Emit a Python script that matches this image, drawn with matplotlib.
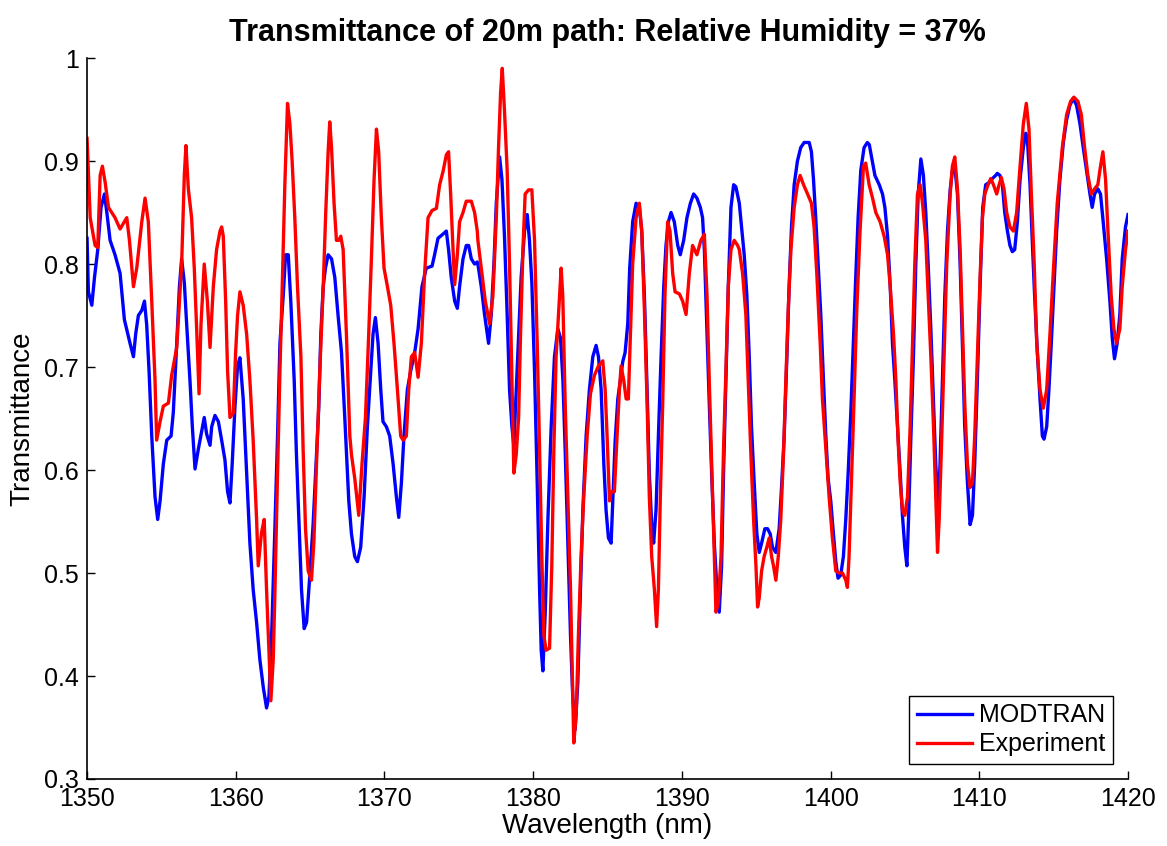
import matplotlib
matplotlib.use("Agg")
import matplotlib.pyplot as plt
from matplotlib.ticker import FormatStrFormatter

plt.rcParams.update({
    "font.family": ["Liberation Sans", "DejaVu Sans"],
    "font.size": 18,
})

BLUE = "#0000ff"
RED = "#ff0000"

# MODTRAN model
wl_modtran = [
    1350.00, 1350.09, 1350.32, 1350.50, 1350.72, 1350.94, 1351.17, 1351.33, 1351.55, 1351.88,
    1352.22, 1352.51, 1352.89, 1353.12, 1353.27, 1353.45, 1353.68, 1353.86, 1354.01, 1354.17,
    1354.35, 1354.57, 1354.75, 1354.91, 1355.13, 1355.36, 1355.65, 1355.80, 1356.03, 1356.21,
    1356.36, 1356.54, 1356.70, 1356.92, 1357.08, 1357.26, 1357.48, 1357.71, 1357.88, 1358.04,
    1358.27, 1358.38, 1358.60, 1358.83,
    1359.05, 1359.27, 1359.45, 1359.61, 1359.76, 1359.94, 1360.12, 1360.28, 1360.50, 1360.73,
    1360.95, 1361.17, 1361.40, 1361.62, 1361.85, 1362.07, 1362.23, 1362.41, 1362.63, 1362.81,
    1362.97, 1363.19, 1363.35, 1363.53, 1363.70, 1363.93, 1364.08, 1364.24, 1364.42, 1364.60,
    1364.76, 1364.98, 1365.20, 1365.43, 1365.58, 1365.72, 1365.88, 1366.03, 1366.21, 1366.44,
    1366.66, 1366.88, 1367.11, 1367.33, 1367.51,
    1367.60, 1367.78, 1368.00, 1368.18, 1368.40, 1368.63, 1368.85, 1369.08, 1369.23, 1369.39,
    1369.57, 1369.75, 1369.90, 1370.13, 1370.35, 1370.58, 1370.80, 1370.96, 1371.14, 1371.31,
    1371.54, 1371.76, 1372.03, 1372.26, 1372.52, 1372.81, 1373.20, 1373.37, 1373.60, 1373.93,
    1374.16, 1374.31, 1374.49, 1374.72, 1374.90, 1375.05, 1375.28, 1375.50, 1375.66, 1375.84,
    1376.06, 1376.24,
    1376.28, 1376.51, 1376.73, 1377.00, 1377.18, 1377.36, 1377.52, 1377.74, 1377.90, 1378.07,
    1378.25, 1378.41, 1378.57, 1378.70, 1378.86, 1379.02, 1379.19, 1379.42, 1379.60, 1379.75,
    1379.91, 1380.09, 1380.27, 1380.43, 1380.54, 1380.65, 1380.81, 1380.99, 1381.21, 1381.43,
    1381.66, 1381.84, 1382.00, 1382.15, 1382.33, 1382.51, 1382.66, 1382.82, 1383.00, 1383.18,
    1383.34, 1383.56, 1383.78, 1384.01, 1384.23, 1384.39, 1384.57, 1384.75, 1384.90, 1385.06,
    1385.24, 1385.35, 1385.51, 1385.69, 1385.86, 1386.02, 1386.18, 1386.36, 1386.49, 1386.69,
    1386.92, 1387.14, 1387.30, 1387.48, 1387.66, 1387.81, 1387.97, 1388.10, 1388.26, 1388.42,
    1388.60, 1388.78, 1388.93, 1389.09, 1389.27, 1389.49, 1389.72, 1389.89, 1390.12, 1390.34,
    1390.57, 1390.79, 1391.01, 1391.24, 1391.39, 1391.51, 1391.69, 1391.84, 1392.00, 1392.18,
    1392.36, 1392.51, 1392.67, 1392.80, 1392.96, 1393.12, 1393.30, 1393.48, 1393.63, 1393.86,
    1394.01, 1394.19, 1394.37, 1394.53, 1394.68, 1394.86, 1395.04, 1395.20, 1395.36, 1395.58,
    1395.76, 1395.94, 1396.09, 1396.32, 1396.54, 1396.70, 1396.88, 1397.06, 1397.21, 1397.37,
    1397.55, 1397.77, 1397.99, 1398.22, 1398.56, 1398.71, 1398.85, 1399.00, 1399.16, 1399.34,
    1399.52, 1399.68, 1399.83, 1400.01, 1400.19, 1400.35, 1400.50, 1400.68, 1400.86, 1401.02,
    1401.18, 1401.36, 1401.53, 1401.69, 1401.85, 1402.03, 1402.25, 1402.47,
    1402.60, 1402.75, 1402.98, 1403.27, 1403.49, 1403.65, 1403.83, 1404.01, 1404.16, 1404.32,
    1404.50, 1404.68, 1404.83, 1404.99, 1405.13, 1405.24, 1405.39, 1405.57, 1405.73, 1405.89,
    1406.07, 1406.24, 1406.40, 1406.56, 1406.74, 1406.92, 1407.07, 1407.23, 1407.36, 1407.52,
    1407.68, 1407.86, 1408.04, 1408.19, 1408.35, 1408.53, 1408.71, 1408.86, 1409.02, 1409.20,
    1409.38, 1409.54, 1409.69, 1409.87, 1410.05, 1410.23, 1410.43, 1410.65, 1410.88, 1411.10,
    1411.21, 1411.39, 1411.55, 1411.71, 1411.89, 1412.06, 1412.22, 1412.38, 1412.56, 1412.74,
    1412.96, 1413.12, 1413.23, 1413.41, 1413.56, 1413.72, 1413.90, 1414.08, 1414.24, 1414.35,
    1414.53, 1414.68, 1414.84, 1415.02, 1415.20, 1415.42, 1415.65, 1415.87, 1416.09, 1416.32,
    1416.54, 1416.77, 1416.99, 1417.21, 1417.44, 1417.59, 1417.75, 1417.97, 1418.15, 1418.33,
    1418.56, 1418.78, 1418.94, 1419.09, 1419.27, 1419.45, 1419.61, 1419.83, 1420.00,
]
t_modtran = [
    0.825, 0.773, 0.760, 0.787, 0.814, 0.855, 0.868, 0.850, 0.823, 0.809,
    0.791, 0.746, 0.723, 0.710, 0.732, 0.750, 0.755, 0.764, 0.741, 0.696,
    0.633, 0.574, 0.552, 0.570, 0.606, 0.629, 0.633, 0.656, 0.723, 0.778,
    0.805, 0.782, 0.741, 0.687, 0.642, 0.601, 0.620, 0.638, 0.651, 0.635,
    0.624, 0.642, 0.653, 0.647,
    0.629, 0.610, 0.579, 0.568, 0.606, 0.660, 0.701, 0.709, 0.669, 0.597,
    0.529, 0.484, 0.452, 0.416, 0.389, 0.369, 0.380, 0.439, 0.543, 0.633,
    0.723, 0.769, 0.809, 0.809, 0.764, 0.687, 0.615, 0.552, 0.484, 0.446,
    0.452, 0.498, 0.547, 0.615, 0.660, 0.732, 0.778, 0.796, 0.809, 0.805,
    0.787, 0.750, 0.714, 0.651, 0.597,
    0.570, 0.538, 0.516, 0.511, 0.525, 0.574, 0.642, 0.696, 0.732, 0.748,
    0.723, 0.678, 0.647, 0.642, 0.633, 0.606, 0.574, 0.554, 0.588, 0.633,
    0.678, 0.696, 0.714, 0.737, 0.778, 0.796, 0.798, 0.809, 0.825, 0.829,
    0.832, 0.814, 0.787, 0.764, 0.757, 0.778, 0.805, 0.818, 0.818, 0.805,
    0.800, 0.802,
    0.800, 0.778, 0.751, 0.723, 0.751, 0.800, 0.859, 0.904, 0.882, 0.827,
    0.751, 0.678, 0.642, 0.624, 0.678, 0.732, 0.787, 0.832, 0.848, 0.823,
    0.782, 0.696, 0.588, 0.484, 0.425, 0.405, 0.462, 0.552, 0.642, 0.710,
    0.737, 0.728, 0.687, 0.620, 0.529, 0.439, 0.380, 0.348, 0.393, 0.484,
    0.561, 0.633, 0.678, 0.710, 0.721, 0.710, 0.678, 0.606, 0.561, 0.534,
    0.529, 0.570, 0.628, 0.669, 0.687, 0.705, 0.714, 0.742, 0.796, 0.841,
    0.859, 0.855, 0.832, 0.769, 0.678, 0.597, 0.547, 0.529, 0.561, 0.633,
    0.710, 0.778, 0.818, 0.841, 0.850, 0.841, 0.818, 0.809, 0.823, 0.845,
    0.859, 0.868, 0.864, 0.855, 0.845, 0.814, 0.732, 0.665, 0.597, 0.529,
    0.484, 0.462, 0.507, 0.597, 0.687, 0.778, 0.855, 0.877, 0.875, 0.859,
    0.836, 0.809, 0.769, 0.710, 0.642, 0.588, 0.538, 0.520, 0.529, 0.543,
    0.543, 0.538, 0.525, 0.520, 0.543, 0.583, 0.633, 0.710, 0.778, 0.836,
    0.877, 0.900, 0.913, 0.918, 0.918, 0.909, 0.882, 0.845, 0.800, 0.751,
    0.687, 0.633, 0.592, 0.570, 0.538, 0.511, 0.495, 0.498, 0.516, 0.552,
    0.597, 0.656, 0.723, 0.787, 0.845, 0.891, 0.913, 0.918,
    0.916, 0.904, 0.886, 0.877, 0.868, 0.855, 0.827, 0.778, 0.723, 0.687,
    0.642, 0.597, 0.556, 0.525, 0.507, 0.552, 0.628, 0.710, 0.800, 0.868,
    0.902, 0.886, 0.850, 0.800, 0.737, 0.665, 0.606, 0.561, 0.606, 0.687,
    0.769, 0.832, 0.872, 0.891, 0.895, 0.868, 0.800, 0.723, 0.642, 0.588,
    0.547, 0.556, 0.606, 0.687, 0.778, 0.855, 0.877, 0.879, 0.883, 0.886,
    0.888, 0.886, 0.877, 0.850, 0.832, 0.818, 0.812, 0.814, 0.841, 0.882,
    0.913, 0.927, 0.922, 0.877, 0.823, 0.769, 0.715, 0.669, 0.633, 0.630,
    0.642, 0.678, 0.723, 0.778, 0.832, 0.882, 0.918, 0.940, 0.954, 0.961,
    0.954, 0.936, 0.913, 0.891, 0.868, 0.855, 0.868, 0.873, 0.868, 0.841,
    0.805, 0.764, 0.728, 0.708, 0.723, 0.751, 0.805, 0.836, 0.848,
]

# measured transmittance
wl_exp = [
    1350.00, 1350.21, 1350.54, 1350.72, 1350.88, 1351.03, 1351.21, 1351.44, 1351.88, 1352.22,
    1352.67, 1352.85, 1353.12, 1353.34, 1353.68, 1353.90, 1354.12, 1354.35, 1354.57, 1354.68,
    1354.91, 1355.13, 1355.47, 1355.69, 1356.03, 1356.36, 1356.54, 1356.65, 1356.81, 1357.03,
    1357.21, 1357.37, 1357.53, 1357.66, 1357.88, 1358.09, 1358.27, 1358.49, 1358.71, 1358.94,
    1359.05, 1359.16, 1359.32, 1359.45, 1359.61, 1359.83, 1359.99, 1360.12, 1360.28, 1360.50,
    1360.73, 1360.95, 1361.17, 1361.40, 1361.51, 1361.73, 1361.91, 1362.07, 1362.23, 1362.36,
    1362.52, 1362.63, 1362.81, 1362.97, 1363.14, 1363.30, 1363.48, 1363.64, 1363.79, 1363.97,
    1364.15, 1364.38, 1364.53, 1364.69, 1364.87, 1365.09, 1365.25, 1365.43, 1365.65, 1365.88,
    1366.05, 1366.21, 1366.32, 1366.44, 1366.61, 1366.77, 1366.93, 1367.06, 1367.22, 1367.44,
    1367.67,
    1367.78, 1368.00, 1368.27, 1368.49, 1368.72, 1368.94, 1369.12, 1369.30, 1369.46, 1369.61,
    1369.79, 1369.97, 1370.20, 1370.42, 1370.64, 1370.87, 1371.09, 1371.25, 1371.47, 1371.63,
    1371.81, 1372.03, 1372.26, 1372.48, 1372.70, 1372.93, 1373.20, 1373.49, 1373.71, 1373.94,
    1374.16, 1374.31, 1374.45, 1374.61, 1374.72, 1374.90, 1375.05, 1375.28, 1375.50, 1375.84,
    1376.06, 1376.24,
    1376.28, 1376.51, 1376.78, 1377.07, 1377.29, 1377.52, 1377.67, 1377.81, 1377.92, 1378.07,
    1378.25, 1378.41, 1378.57, 1378.70, 1378.86, 1379.02, 1379.15, 1379.31, 1379.46, 1379.69,
    1379.91, 1380.09, 1380.27, 1380.43, 1380.58, 1380.72, 1380.87, 1381.10, 1381.25, 1381.39,
    1381.54, 1381.70, 1381.88, 1381.99, 1382.15, 1382.33, 1382.51, 1382.64, 1382.73, 1382.89,
    1383.04, 1383.22, 1383.40, 1383.63, 1383.85, 1384.12, 1384.39, 1384.68, 1384.84, 1384.97,
    1385.13,
    1385.24, 1385.46, 1385.64, 1385.80, 1385.91, 1386.09, 1386.25, 1386.40, 1386.54, 1386.69,
    1386.92, 1387.14, 1387.30, 1387.48, 1387.66, 1387.81, 1387.97, 1388.15, 1388.30, 1388.42,
    1388.55, 1388.71, 1388.86, 1389.04, 1389.20, 1389.38, 1389.54, 1389.83, 1390.05, 1390.28,
    1390.50, 1390.72, 1391.01, 1391.28, 1391.51, 1391.69, 1391.84, 1392.00, 1392.18, 1392.29,
    1392.45, 1392.63, 1392.80, 1392.96, 1393.12, 1393.30, 1393.52, 1393.75,
    1393.86, 1394.08, 1394.30, 1394.46, 1394.64, 1394.82, 1394.98, 1395.09, 1395.20, 1395.36,
    1395.53, 1395.71, 1395.87, 1396.03, 1396.16, 1396.32, 1396.48, 1396.65, 1396.83, 1396.99,
    1397.15, 1397.33, 1397.55, 1397.77, 1397.95, 1398.18, 1398.45, 1398.71, 1398.89, 1399.07,
    1399.30, 1399.45, 1399.68, 1399.90, 1400.12, 1400.35, 1400.57, 1400.80, 1401.02, 1401.13,
    1401.24, 1401.40, 1401.58, 1401.76, 1401.98, 1402.21, 1402.36, 1402.59,
    1402.82, 1403.04, 1403.33, 1403.60, 1403.83, 1404.01, 1404.23, 1404.39, 1404.54, 1404.68,
    1404.83, 1404.99, 1405.17, 1405.35, 1405.51, 1405.66, 1405.84, 1406.02, 1406.18, 1406.40,
    1406.56, 1406.74, 1406.92, 1407.07, 1407.19, 1407.30, 1407.45, 1407.63, 1407.81, 1408.04,
    1408.19, 1408.35, 1408.53, 1408.71, 1408.86, 1409.02, 1409.20, 1409.38, 1409.54, 1409.69,
    1409.87, 1410.05, 1410.21, 1410.37, 1410.59, 1410.77, 1410.95, 1411.17,
    1411.33, 1411.48, 1411.66, 1411.84, 1412.06, 1412.29, 1412.51, 1412.74, 1412.96, 1413.16,
    1413.34, 1413.50, 1413.68, 1413.86, 1414.08, 1414.30, 1414.53, 1414.75, 1414.97, 1415.24,
    1415.58, 1415.87, 1416.14, 1416.36, 1416.63, 1416.86, 1417.08, 1417.30, 1417.53, 1417.75,
    1417.97, 1418.15, 1418.31, 1418.49, 1418.65, 1418.87, 1419.05, 1419.23, 1419.45, 1419.61,
    1419.83, 1420.00,
]
t_exp = [
    0.922, 0.845, 0.818, 0.816, 0.886, 0.895, 0.880, 0.855, 0.845, 0.834,
    0.845, 0.823, 0.778, 0.796, 0.841, 0.864, 0.841, 0.764, 0.687, 0.629,
    0.647, 0.662, 0.665, 0.692, 0.719, 0.800, 0.886, 0.915, 0.873, 0.845,
    0.796, 0.737, 0.674, 0.741, 0.800, 0.764, 0.719, 0.778, 0.814, 0.832,
    0.836, 0.827, 0.764, 0.696, 0.651, 0.655, 0.714, 0.750, 0.773, 0.760,
    0.732, 0.687, 0.629, 0.552, 0.507, 0.539, 0.552, 0.484, 0.425, 0.376,
    0.416, 0.480, 0.597, 0.696, 0.787, 0.877, 0.956, 0.936, 0.900, 0.845,
    0.778, 0.710, 0.620, 0.543, 0.502, 0.493, 0.529, 0.606, 0.696, 0.778,
    0.850, 0.909, 0.938, 0.913, 0.859, 0.823, 0.823, 0.827, 0.814, 0.732,
    0.633,
    0.615, 0.592, 0.556, 0.606, 0.651, 0.732, 0.805, 0.882, 0.931, 0.909,
    0.845, 0.796, 0.778, 0.760, 0.723, 0.678, 0.633, 0.629, 0.633, 0.678,
    0.710, 0.714, 0.690, 0.723, 0.791, 0.845, 0.852, 0.854, 0.877, 0.890,
    0.906, 0.909, 0.868, 0.814, 0.780, 0.809, 0.841, 0.850, 0.861, 0.861,
    0.850, 0.832,
    0.823, 0.796, 0.764, 0.742, 0.769, 0.845, 0.913, 0.967, 0.990, 0.949,
    0.891, 0.800, 0.687, 0.597, 0.615, 0.651, 0.732, 0.814, 0.868, 0.872,
    0.872, 0.823, 0.723, 0.620, 0.516, 0.439, 0.425, 0.427, 0.507, 0.620,
    0.710, 0.751, 0.796, 0.769, 0.665, 0.574, 0.484, 0.393, 0.335, 0.362,
    0.439, 0.516, 0.574, 0.633, 0.674, 0.692, 0.701, 0.706, 0.678, 0.633,
    0.570,
    0.579, 0.579, 0.633, 0.678, 0.701, 0.687, 0.669, 0.669, 0.732, 0.800,
    0.845, 0.859, 0.832, 0.755, 0.665, 0.574, 0.516, 0.484, 0.448, 0.484,
    0.574, 0.665, 0.769, 0.841, 0.832, 0.791, 0.773, 0.771, 0.764, 0.751,
    0.791, 0.818, 0.809, 0.823, 0.829, 0.769, 0.687, 0.606, 0.516, 0.462,
    0.471, 0.516, 0.620, 0.696, 0.778, 0.814, 0.823, 0.818,
    0.814, 0.791, 0.751, 0.687, 0.615, 0.552, 0.507, 0.467, 0.476, 0.502,
    0.516, 0.525, 0.534, 0.516, 0.507, 0.493, 0.516, 0.552, 0.615, 0.687,
    0.755, 0.814, 0.855, 0.877, 0.886, 0.877, 0.868, 0.859, 0.836, 0.791,
    0.723, 0.669, 0.620, 0.574, 0.534, 0.502, 0.500, 0.500, 0.493, 0.486,
    0.516, 0.588, 0.670, 0.755, 0.832, 0.895, 0.898, 0.877,
    0.864, 0.850, 0.841, 0.827, 0.809, 0.778, 0.732, 0.687, 0.628, 0.588,
    0.561, 0.556, 0.574, 0.642, 0.723, 0.800, 0.868, 0.877, 0.859, 0.823,
    0.769, 0.710, 0.642, 0.574, 0.520, 0.552, 0.620, 0.710, 0.800, 0.868,
    0.895, 0.904, 0.873, 0.814, 0.742, 0.665, 0.606, 0.583, 0.588, 0.633,
    0.710, 0.787, 0.845, 0.868, 0.877, 0.883, 0.877, 0.868,
    0.877, 0.884, 0.873, 0.850, 0.836, 0.832, 0.850, 0.895, 0.936, 0.956,
    0.931, 0.868, 0.805, 0.723, 0.678, 0.660, 0.678, 0.732, 0.791, 0.859,
    0.913, 0.945, 0.958, 0.962, 0.958, 0.945, 0.913, 0.886, 0.868, 0.873,
    0.877, 0.895, 0.909, 0.882, 0.832, 0.769, 0.737, 0.723, 0.737, 0.778,
    0.814, 0.832,
]

fig = plt.figure(figsize=(11.67, 8.46), dpi=100)
ax = fig.add_axes([0.0746, 0.0792, 0.8920, 0.8522])

ax.plot(wl_modtran, t_modtran, color=BLUE, lw=2.4, label="MODTRAN")
ax.plot(wl_exp, t_exp, color=RED, lw=2.4, label="Experiment")

ax.set_xlim(1350, 1420)
ax.set_ylim(0.3, 1.0)
ax.set_xticks(range(1350, 1421, 10))
ax.set_yticks([0.3, 0.4, 0.5, 0.6, 0.7, 0.8, 0.9, 1.0])
ax.yaxis.set_major_formatter(FormatStrFormatter("%g"))
ax.tick_params(direction="in", length=6, width=1, labelsize=18, pad=6)
for side in ("top", "right"):
    ax.spines[side].set_visible(False)
for side in ("left", "bottom"):
    ax.spines[side].set_linewidth(1.2)

ax.set_xlabel("Wavelength (nm)", fontsize=20, labelpad=1)
ax.set_ylabel("Transmittance", fontsize=20, labelpad=6)
ax.set_title("Transmittance of 20m path: Relative Humidity = 37%",
             fontsize=22, fontweight="bold", pad=12)

leg = ax.legend(loc="lower right", fontsize=18, handlelength=2.2,
                fancybox=False, framealpha=1, edgecolor="black",
                borderaxespad=0.6, handletextpad=0.3, labelspacing=0.2,
                borderpad=0.3)
leg.get_frame().set_linewidth(1.0)

fig.savefig("out.png", dpi=100)
